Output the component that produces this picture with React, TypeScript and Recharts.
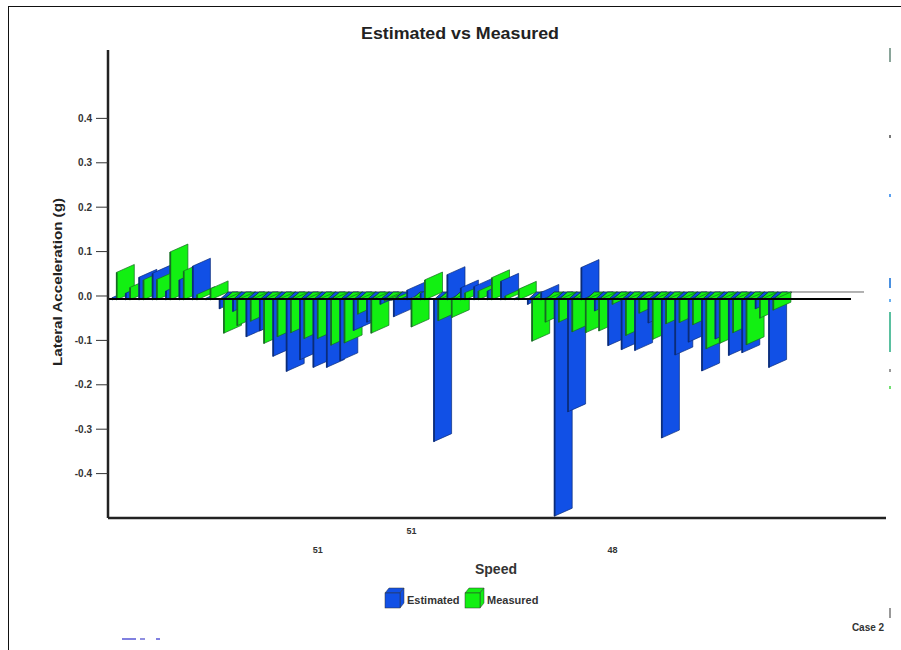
import { BarChart, Bar, XAxis, YAxis, Legend, ReferenceLine } from "recharts"

const seriesNames = ["Estimated", "Measured"]
const estimated = [
  0.005, 0.015, 0.051, 0.06, 0.02, 0.045, 0.076, 0.004, -0.02, -0.026,
  -0.083, -0.07, -0.127, -0.161, -0.135, -0.152, -0.152, -0.137, -0.069, -0.05,
  -0.01, -0.038, 0.022, 0.015, -0.319, 0.057, 0.027, 0.03, 0.02, 0.042,
  0.003, -0.01, 0.017, -0.487, -0.252, 0.073, -0.025, -0.103, -0.112, -0.114,
  -0.052, -0.311, -0.124, -0.095, -0.16, -0.088, -0.125, -0.119, -0.02, -0.152,
]
const measured = [
  0.062, 0.028, 0.045, 0.046, 0.108, 0.065, 0.012, 0.025, -0.075, -0.058,
  -0.048, -0.098, -0.083, -0.074, -0.087, -0.087, -0.102, -0.097, -0.032, -0.075,
  -0.003, 0.006, -0.061, 0.045, -0.047, -0.04, 0.016, 0.02, 0.05, 0.009,
  0.024, -0.093, -0.05, -0.05, -0.072, -0.074, -0.07, -0.01, -0.08, -0.03,
  -0.089, -0.054, -0.051, -0.056, -0.11, -0.098, -0.074, -0.101, -0.041, -0.023,
]
const yTicks = [-0.4, -0.3, -0.2, -0.1, 0, 0.1, 0.2, 0.3, 0.4]
// speed labels only sit on a few categories, staggered in two rows
const speedLabels: Record<number, { text: string; row: number }> = {
  15: { text: "51", row: 1 },
  22: { text: "51", row: 0 },
  37: { text: "48", row: 1 },
}

const rows = estimated.map((e, i) => ({ idx: i, ["e" + i]: e, ["m" + i]: measured[i] }))

const FONT = "'Liberation Sans', Arial, sans-serif"
const BLUE = "#1150e6"
const GREEN = "#12f012"
const BAR_W = 18
const SLANT = 4

// slivers of the next chart that the crop of the page left at the edges
const edgeScraps = [
  { left: 889, top: 48, width: 2, height: 14, background: "#8aa59a" },
  { left: 889, top: 135, width: 2, height: 3, background: "#777" },
  { left: 889, top: 194, width: 2, height: 3, background: "#5aa0f0" },
  { left: 889, top: 278, width: 2, height: 10, background: "#4a90e0" },
  { left: 889, top: 299, width: 2, height: 3, background: "#6ab0f0" },
  { left: 889, top: 312, width: 2, height: 40, background: "#5ac0a0" },
  { left: 889, top: 369, width: 2, height: 3, background: "#999" },
  { left: 889, top: 386, width: 2, height: 3, background: "#70e070" },
  { left: 889, top: 608, width: 2, height: 10, background: "#999" },
  { left: 122, top: 638, width: 14, height: 2, background: "#8080e0" },
  { left: 140, top: 638, width: 5, height: 2, background: "#9090e0" },
  { left: 156, top: 638, width: 4, height: 2, background: "#8080e0" },
]

const Bar3D = (p: any) => {
  const v = p.payload[p.dataKey]
  if (v === undefined || v === null) return null
  const left = p.x + p.shift
  const right = left + BAR_W
  const a = p.y
  const b = p.y + p.height
  const base = v < 0 ? Math.min(a, b) : Math.max(a, b)
  const end = v < 0 ? Math.max(a, b) : Math.min(a, b)
  return (
    <g>
      {v < 0 && (
        <polygon
          points={`${left},${base + SLANT} ${left + 9},${base - SLANT} ${right + 1},${base - SLANT} ${left + 12},${base + SLANT}`}
          fill={p.fill}
          stroke="#12303a"
          strokeWidth={0.8}
        />
      )}
      <polygon
        points={`${left},${base + SLANT} ${right},${base - SLANT} ${right},${end - SLANT} ${left},${end + SLANT}`}
        fill={p.fill}
        stroke={p.edge}
        strokeWidth={0.7}
      />
      <line x1={left + 0.5} x2={left + 0.5} y1={base + SLANT} y2={end + SLANT} stroke={p.edge} strokeWidth={1.6} />
    </g>
  )
}

const SpeedTick = (p: any) => {
  const label = speedLabels[p.payload.value]
  if (!label) return null
  return (
    <text x={p.x + 2} y={label.row ? 553 : 534} textAnchor="middle" fontFamily={FONT} fontSize={9} fontWeight="bold" fill="#333">
      {label.text}
    </text>
  )
}

const Cube = ({ x, color }: { x: number; color: string }) => (
  <svg width={22} height={22} style={{ position: "absolute", left: x, top: 0 }}>
    <polygon points="1,6 5,1 20,1 16,6" fill={color} stroke="#333" strokeWidth={0.5} />
    <polygon points="16,6 20,1 20,16 16,21" fill={color} stroke="#333" strokeWidth={0.5} />
    <rect x={1} y={6} width={15} height={15} fill={color} stroke="#333" strokeWidth={0.5} />
  </svg>
)

const ChartLegend = () => (
  <div style={{ position: "relative", width: 160, height: 22, fontFamily: FONT, fontSize: 11, fontWeight: "bold", color: "#333" }}>
    <Cube x={0} color={BLUE} />
    <span style={{ position: "absolute", left: 23, top: 7 }}>{seriesNames[0]}</span>
    <Cube x={80} color={GREEN} />
    <span style={{ position: "absolute", left: 103, top: 7 }}>{seriesNames[1]}</span>
  </div>
)

export default function App() {
  return (
    <div style={{ position: "absolute", left: 0, top: 0, width: 901, height: 650, overflow: "hidden", background: "#fff" }}>
      <div style={{ position: "absolute", left: 8, top: 6, width: 900, height: 700, border: "1.5px solid #111" }} />
      {edgeScraps.map((s, i) => (
        <div key={i} style={{ position: "absolute", ...s }} />
      ))}
      <div style={{ position: "absolute", left: 0, top: 0 }}>
        <BarChart
          width={901}
          height={650}
          data={rows}
          margin={{ top: 50, right: 15, bottom: 72, left: 8 }}
          barCategoryGap={0}
          barGap={0}
          stackOffset="sign"
        >
          <XAxis
            dataKey="idx"
            type="category"
            height={60}
            padding={{ left: 0, right: 108 }}
            ticks={[15, 22, 37]}
            interval={0}
            tick={<SpeedTick />}
            tickLine={false}
            axisLine={{ stroke: "#222", strokeWidth: 2.5 }}
          />
          <YAxis
            width={100}
            domain={[-0.5, 0.554]}
            ticks={yTicks}
            interval={0}
            tickFormatter={(v: number) => v.toFixed(1)}
            tick={{ fontFamily: FONT, fontSize: 10, fontWeight: "bold", fill: "#333" }}
            tickSize={12}
            tickMargin={4}
            tickLine={{ stroke: "#333", strokeWidth: 1 }}
            axisLine={{ stroke: "#222", strokeWidth: 2.5 }}
          />
          <Legend
            content={<ChartLegend />}
            verticalAlign="middle"
            wrapperStyle={{ left: 384, top: 587, width: 160 }}
          />
          {estimated.flatMap((_, i) => [
            <Bar
              key={"e" + i}
              dataKey={"e" + i}
              stackId="e"
              fill={BLUE}
              isAnimationActive={false}
              shape={(p: any) => <Bar3D {...p} dataKey={"e" + i} shift={4} edge="#0b2c78" />}
            />,
            <Bar
              key={"m" + i}
              dataKey={"m" + i}
              stackId="m"
              fill={GREEN}
              isAnimationActive={false}
              shape={(p: any) => <Bar3D {...p} dataKey={"m" + i} shift={1.3} edge="#176a24" />}
            />,
          ])}
          <ReferenceLine
            y={0.009}
            stroke="#666"
            shape={(p: any) => <line x1={790} x2={864} y1={p.y1} y2={p.y2} stroke="#666" strokeWidth={1} />}
          />
          <ReferenceLine
            y={-0.007}
            stroke="#000"
            shape={(p: any) => <line x1={108} x2={851} y1={p.y1} y2={p.y2} stroke="#000" strokeWidth={2} />}
          />
          <text x={460} y={39} textAnchor="middle" fontFamily={FONT} fontSize={17} textLength={198} lengthAdjust="spacingAndGlyphs" fontWeight="bold" fill="#222">
            Estimated vs Measured
          </text>
          <text
            x={62}
            y={282}
            textAnchor="middle"
            transform="rotate(-90 62 282)"
            fontFamily={FONT}
            fontSize={13}
            textLength={168}
            lengthAdjust="spacingAndGlyphs"
            fontWeight="bold"
            fill="#222"
          >
            Lateral Acceleration (g)
          </text>
          <text x={496} y={574} textAnchor="middle" fontFamily={FONT} fontSize={14} fontWeight="bold" fill="#333">
            Speed
          </text>
          <text x={868} y={631} textAnchor="middle" fontFamily={FONT} fontSize={10} fontWeight="bold" fill="#333">
            Case 2
          </text>
        </BarChart>
      </div>
    </div>
  )
}
